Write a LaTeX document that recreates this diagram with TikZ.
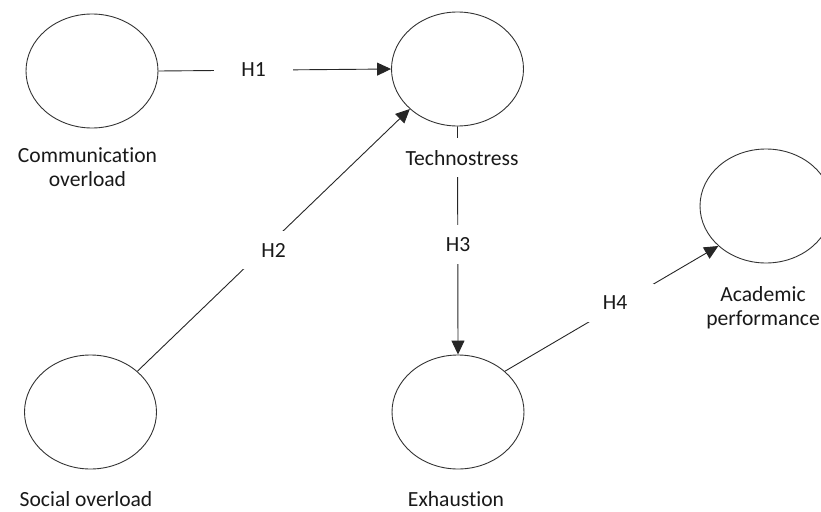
\documentclass[tikz,border=0pt]{standalone}
\usepackage{fontspec}
\setmainfont{Carlito}[Ligatures={NoCommon}]
\usetikzlibrary{arrows.meta,shapes.geometric}
\pgfdeclarelayer{bg}
\pgfsetlayers{bg,main}
\begin{document}
\begin{tikzpicture}[x=1pt,y=-1pt,
  construct/.style={ellipse,draw=black!80,line width=0.9pt,minimum width=132pt,minimum height=114pt,inner sep=0pt},
  cname/.style={font=\fontsize{21.6}{23.5}\selectfont,text=black!90,align=center,inner sep=0pt},
  hyp/.style={font=\fontsize{21.6}{23.5}\selectfont,text=black!90,fill=white,inner xsep=27pt,inner ysep=12pt},
  link/.style={draw=black!85,line width=0.9pt},
  arr/.style={link,-{Triangle[length=14pt,width=13pt]}}]
\useasboundingbox (0,0) rectangle (821,511);
% constructs
\node[construct] (co) at (92,71) {};
\node[construct] (ts) at (457.5,69) {};
\node[construct] (ap) at (766,206) {};
\node[construct] (so) at (90.5,412) {};
\node[construct] (es) at (458,412) {};
% construct names
\node[cname,anchor=base] (coname) at (87.5,186) {Communication\\overload};
\node[cname,anchor=base,fill=white,inner ysep=12pt] (tsname) at (462,165) {Technostress};
\node[cname,anchor=base] (apname) at (763,325) {Academic\\performance};
\node[cname,anchor=base] (soname) at (86,506.5) {Social overload};
\node[cname,anchor=base] (esname) at (456,506) {Exhaustion};
% hypothesis labels
\node[hyp] (h1) at (253.5,69.5) {H1};
\node[hyp] (h2) at (273.5,250) {H2};
\node[hyp] (h3) at (458,244.5) {H3};
\node[hyp] (h4) at (615,303) {H4};
% connectors
\begin{pgfonlayer}{bg}
\draw[arr] (co.east) -- (ts.west);
\draw[arr] (so.41) -- (ts.220);
\draw[arr] (ts.south) -- (es.north);
\draw[arr] (es.41) -- (ap.220.5);
\end{pgfonlayer}
\end{tikzpicture}
\end{document}
